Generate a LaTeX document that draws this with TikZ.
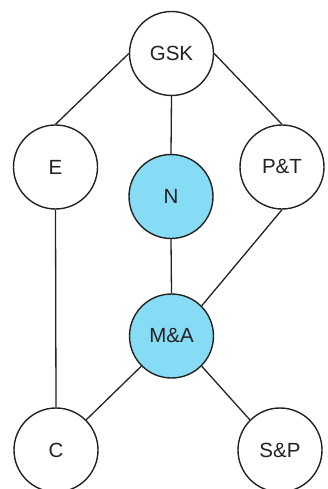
\documentclass[tikz,border=0pt]{standalone}
\usepackage{fontspec}
\setmainfont{Liberation Sans}
\definecolor{hilite}{HTML}{86DCF5}
\definecolor{ink}{HTML}{222222}
\begin{document}
\begin{tikzpicture}[x=1pt,y=-1pt,
  vertex/.style={circle,draw=ink,line width=1.4pt,fill=white,minimum size=84pt,inner sep=0pt,font=\fontsize{20.5}{24}\selectfont,text=ink},
  focus/.style={vertex,fill=hilite},
  link/.style={draw=ink,line width=1.3pt}]
\useasboundingbox (0,0) rectangle (328,489);
% circles
\node[vertex] (gsk) at (171.5,53.5) {GSK};
\node[vertex] (e) at (55.5,167) {E};
\node[focus] (n) at (171,196.5) {N};
\node[vertex] (pt) at (282,167) {P\&T};
\node[focus] (ma) at (171.5,336) {M\&A};
\node[vertex] (c) at (56,450) {C};
\node[vertex] (sp) at (280,450) {S\&P};
% links
\draw[link] (gsk.west) -- (e.north);
\draw[link] (gsk.south) -- (n.north);
\draw[link] (gsk.east) -- (pt.north);
\draw[link] (e.south) -- (c.north);
\draw[link] (n.south) -- (ma.north);
\draw[link] (pt.south) -- (ma.north east);
\draw[link] (ma.south west) -- (c.north east);
\draw[link] (ma.south east) -- (sp.north west);
\end{tikzpicture}
\end{document}
